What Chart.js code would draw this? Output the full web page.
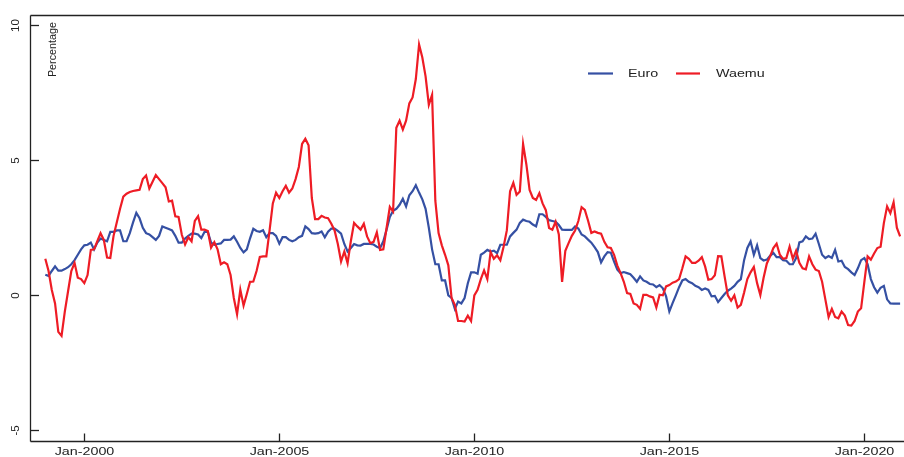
<!DOCTYPE html>
<html><head><meta charset="utf-8">
<script src="https://cdn.jsdelivr.net/npm/chart.js@4/dist/chart.umd.min.js"></script>
<style>html,body{margin:0;padding:0;background:#fff;}#wrap{width:904px;height:457px;}</style>
</head><body><div id="wrap"><canvas id="c" width="904" height="457"></canvas></div>
<script>
// Monthly series, index 0 = Jan 1999
const startYear = 1999;
const euro = [
0.76,0.72,0.9,1.07,0.91,0.91,0.97,1.04,1.15,1.3,1.5,1.7,
1.85,1.87,1.95,1.7,1.95,2.1,2.05,2.0,2.35,2.35,2.4,2.4,
2.0,2.0,2.3,2.7,3.05,2.85,2.5,2.3,2.25,2.15,2.05,2.2,
2.55,2.5,2.45,2.4,2.2,1.95,1.95,2.1,2.2,2.28,2.28,2.25,
2.12,2.35,2.35,1.95,1.87,1.9,1.92,2.05,2.05,2.06,2.18,1.98,
1.75,1.59,1.7,2.11,2.46,2.38,2.35,2.41,2.15,2.3,2.3,2.2,
1.91,2.15,2.15,2.05,2.0,2.05,2.15,2.2,2.55,2.45,2.3,2.28,
2.3,2.36,2.15,2.35,2.47,2.47,2.38,2.28,1.9,1.62,1.75,1.9,
1.85,1.84,1.9,1.9,1.9,1.88,1.8,1.75,2.0,2.43,2.9,3.13,
3.2,3.35,3.57,3.29,3.7,3.85,4.07,3.8,3.55,3.2,2.5,1.7,
1.15,1.15,0.55,0.55,0.0,-0.1,-0.5,-0.23,-0.3,-0.1,0.45,0.85,
0.85,0.8,1.5,1.58,1.68,1.62,1.65,1.56,1.87,1.87,1.87,2.18,
2.31,2.43,2.68,2.8,2.75,2.72,2.62,2.55,3.0,3.0,2.9,2.78,
2.75,2.72,2.6,2.43,2.42,2.42,2.42,2.55,2.47,2.25,2.18,2.06,
1.95,1.78,1.6,1.22,1.44,1.6,1.58,1.25,0.95,0.82,0.86,0.82,
0.78,0.65,0.5,0.7,0.55,0.5,0.42,0.4,0.3,0.38,0.26,-0.04,
-0.6,-0.29,0.0,0.3,0.55,0.6,0.5,0.45,0.35,0.3,0.2,0.25,
0.2,-0.04,-0.02,-0.25,-0.1,0.05,0.17,0.25,0.35,0.5,0.6,1.3,
1.75,1.99,1.5,1.85,1.38,1.29,1.32,1.46,1.57,1.41,1.41,1.3,
1.28,1.15,1.15,1.38,1.96,2.0,2.18,2.08,2.1,2.28,1.9,1.5,
1.38,1.45,1.38,1.68,1.25,1.28,1.05,0.97,0.85,0.75,1.0,1.3,
1.38,1.15,0.6,0.3,0.1,0.28,0.35,-0.15,-0.3,-0.31,-0.31,-0.31
];
const waemu = [
1.35,0.9,0.2,-0.3,-1.35,-1.5,-0.6,0.15,0.9,1.2,0.65,0.6,
0.45,0.75,1.68,1.7,2.0,2.3,2.05,1.4,1.38,2.2,2.7,3.2,
3.65,3.76,3.82,3.86,3.88,3.9,4.3,4.43,3.95,4.2,4.45,4.3,
4.15,4.0,3.47,3.5,2.92,2.9,2.24,1.88,2.15,2.0,2.75,2.93,
2.43,2.43,2.38,1.76,1.97,1.7,1.15,1.22,1.15,0.75,-0.1,-0.7,
0.21,-0.38,0.05,0.5,0.51,0.9,1.42,1.44,1.44,2.4,3.4,3.8,
3.6,3.85,4.05,3.8,3.95,4.3,4.75,5.6,5.79,5.55,3.6,2.82,
2.82,2.94,2.88,2.85,2.65,2.4,1.9,1.25,1.62,1.19,2.0,2.68,
2.55,2.43,2.65,2.18,1.93,1.98,2.33,1.68,1.7,2.49,3.27,3.1,
6.2,6.46,6.13,6.46,7.1,7.32,8.0,9.28,8.8,8.1,7.05,7.42,
3.5,2.3,1.85,1.5,1.11,-0.1,-0.35,-0.95,-0.95,-0.97,-0.75,-0.95,
0.0,0.2,0.6,0.92,0.6,1.6,1.35,1.48,1.3,1.8,2.4,3.85,
4.16,3.72,3.84,5.6,4.85,3.9,3.6,3.53,3.78,3.4,3.15,2.49,
2.43,2.72,2.25,0.5,1.65,1.93,2.2,2.4,2.75,3.26,3.16,2.76,
2.31,2.36,2.31,2.28,1.98,1.78,1.75,1.5,1.1,0.82,0.5,0.08,
0.05,-0.3,-0.35,-0.5,0.02,0.02,-0.04,-0.08,-0.45,0.02,0.0,0.33,
0.38,0.47,0.51,0.6,1.0,1.44,1.35,1.2,1.2,1.28,1.41,1.07,
0.58,0.6,0.74,1.45,1.44,0.7,0.0,-0.2,0.0,-0.45,-0.35,0.1,
0.6,0.85,1.05,0.45,0.01,0.65,1.18,1.44,1.75,1.91,1.5,1.35,
1.38,1.8,1.35,1.65,1.2,1.0,0.96,1.44,1.15,0.95,0.9,0.5,
-0.15,-0.8,-0.5,-0.8,-0.85,-0.6,-0.75,-1.1,-1.12,-0.95,-0.6,-0.48,
0.5,1.44,1.32,1.55,1.75,1.8,2.67,3.29,3.04,3.44,2.5,2.18
];
const seriesNames = ['Euro', 'Waemu'];
const xTickLabels = ['Jan-2000', 'Jan-2005', 'Jan-2010', 'Jan-2015', 'Jan-2020'];
const yTickValues = [-5, 0, 5, 10];
const yAxisTitle = 'Percentage';

const BLUE = '#3550a3', RED = '#ee1c25', INK = '#222';
const toPts = arr => arr.map((v, i) => ({x: i, y: v}));
const tickIndex = lbl => (parseInt(lbl.split('-')[1], 10) - startYear) * 12;

function stretchText(ctx, txt, x, y, sx, align) {
  ctx.save();
  ctx.translate(x, y);
  ctx.scale(sx, 1);
  ctx.textAlign = align;
  ctx.fillText(txt, 0, 0);
  ctx.restore();
}

const decor = {
  id: 'decor',
  afterDraw(chart) {
    const ctx = chart.ctx, a = chart.chartArea, xs = chart.scales.x, ys = chart.scales.y;
    ctx.save();
    ctx.strokeStyle = INK; ctx.lineWidth = 1.3;
    ctx.beginPath();
    ctx.moveTo(a.left + 0.5, a.top + 0.5); ctx.lineTo(a.right, a.top + 0.5);
    ctx.moveTo(a.left + 0.5, a.top + 0.5); ctx.lineTo(a.left + 0.5, a.bottom + 0.5);
    ctx.moveTo(a.left + 0.5, a.bottom + 0.5); ctx.lineTo(a.right, a.bottom + 0.5);
    ctx.stroke();
    // y ticks and labels
    ctx.fillStyle = INK;
    ctx.font = '11.5px "Liberation Sans", Arial, sans-serif';
    ctx.textBaseline = 'middle';
    yTickValues.forEach(v => {
      const py = Math.round(ys.getPixelForValue(v)) + 0.5;
      ctx.beginPath(); ctx.moveTo(a.left, py); ctx.lineTo(a.left + 9, py); ctx.stroke();
      ctx.save(); ctx.translate(16, py); ctx.rotate(-Math.PI / 2);
      ctx.textAlign = 'center'; ctx.fillText(String(v), 0, 0); ctx.restore();
    });
    // x ticks and labels
    ctx.font = '11px "Liberation Sans", Arial, sans-serif';
    xTickLabels.forEach(l => {
      const px = Math.round(xs.getPixelForValue(tickIndex(l))) + 0.5;
      ctx.beginPath(); ctx.moveTo(px, a.bottom); ctx.lineTo(px, a.bottom - 7.5); ctx.stroke();
      stretchText(ctx, l, px, 452, 1.3, 'center');
    });
    // y title
    ctx.font = '10.8px "Liberation Sans", Arial, sans-serif';
    ctx.save(); ctx.translate(53, 49.5); ctx.rotate(-Math.PI / 2);
    ctx.textAlign = 'center'; ctx.fillText(yAxisTitle, 0, 0); ctx.restore();
    // legend
    const leg = [{c: BLUE, x1: 588, x2: 613, tx: 628}, {c: RED, x1: 676, x2: 700, tx: 716}];
    ctx.font = '11px "Liberation Sans", Arial, sans-serif';
    leg.forEach((g, i) => {
      ctx.strokeStyle = g.c; ctx.lineWidth = 2.2;
      ctx.beginPath(); ctx.moveTo(g.x1, 73.5); ctx.lineTo(g.x2, 73.5); ctx.stroke();
      ctx.fillStyle = INK;
      stretchText(ctx, seriesNames[i], g.tx, 74, 1.3, 'left');
    });
    ctx.restore();
  }
};

new Chart(document.getElementById('c'), {
  type: 'line',
  data: {
    datasets: [
      {label: seriesNames[0], data: toPts(euro), borderColor: BLUE, borderWidth: 2.2, pointRadius: 0, tension: 0, order: 2},
      {label: seriesNames[1], data: toPts(waemu), borderColor: RED, borderWidth: 2.2, pointRadius: 0, tension: 0, order: 1}
    ]
  },
  options: {
    responsive: false, animation: false, devicePixelRatio: 1,
    layout: {padding: {left: 30, top: 15, right: 0, bottom: 16}},
    plugins: {legend: {display: false}, tooltip: {enabled: false}},
    scales: {
      x: {type: 'linear', display: false, min: -4.71, max: 264.2},
      y: {type: 'linear', display: false, min: -5.389, max: 10.37}
    }
  },
  plugins: [decor]
});
</script></body></html>
